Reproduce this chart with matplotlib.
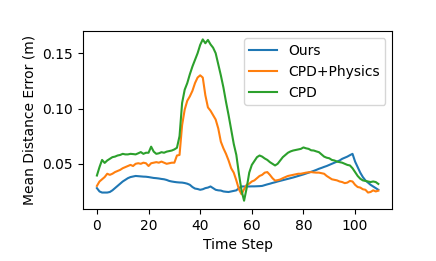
import matplotlib
matplotlib.use("Agg")
import matplotlib.pyplot as plt

steps = list(range(110))

ours = [0.028, 0.025, 0.024, 0.024, 0.024, 0.0245, 0.026, 0.028, 0.030, 0.032,
        0.034, 0.0355, 0.037, 0.038, 0.0385, 0.039, 0.0388, 0.0386, 0.0384, 0.0383,
        0.038, 0.0376, 0.0372, 0.037, 0.0367, 0.0363, 0.036, 0.0354, 0.0345, 0.034,
        0.0336, 0.0333, 0.0331, 0.033, 0.0326, 0.032, 0.031, 0.029, 0.0276, 0.0272,
        0.0265, 0.027, 0.028, 0.0285, 0.0295, 0.028, 0.0265, 0.026, 0.0258, 0.025,
        0.0247, 0.0245, 0.025, 0.0255, 0.026, 0.028, 0.0295, 0.0295, 0.0295, 0.0295,
        0.0296, 0.0296, 0.0297, 0.0298, 0.030, 0.0307, 0.0314, 0.032, 0.0327, 0.0333,
        0.034, 0.0346, 0.0352, 0.0358, 0.0364, 0.037, 0.0376, 0.0383, 0.039, 0.0397,
        0.0404, 0.0412, 0.042, 0.0428, 0.0436, 0.0445, 0.0455, 0.0463, 0.0472, 0.048,
        0.049, 0.050, 0.051, 0.052, 0.053, 0.0545, 0.0555, 0.0565, 0.0578, 0.059,
        0.052, 0.047, 0.042, 0.038, 0.035, 0.033, 0.031, 0.0295, 0.028, 0.0265]

cpd_physics = [0.030, 0.034, 0.036, 0.038, 0.041, 0.040, 0.041, 0.0425, 0.0435, 0.0445,
               0.046, 0.047, 0.048, 0.049, 0.048, 0.050, 0.0505, 0.050, 0.051, 0.0505,
               0.048, 0.0505, 0.051, 0.0515, 0.051, 0.052, 0.051, 0.050, 0.0505, 0.051,
               0.051, 0.0575, 0.058, 0.085, 0.099, 0.107, 0.111, 0.116, 0.123, 0.128,
               0.130, 0.128, 0.112, 0.101, 0.098, 0.094, 0.090, 0.082, 0.070, 0.064,
               0.059, 0.053, 0.046, 0.042, 0.035, 0.027, 0.0225, 0.027, 0.031, 0.032,
               0.034, 0.035, 0.037, 0.039, 0.040, 0.042, 0.0425, 0.040, 0.037, 0.0348,
               0.0352, 0.0358, 0.037, 0.038, 0.039, 0.0395, 0.040, 0.0405, 0.041, 0.041,
               0.0415, 0.042, 0.0423, 0.0425, 0.0422, 0.042, 0.042, 0.0415, 0.041, 0.039,
               0.0375, 0.036, 0.0355, 0.035, 0.034, 0.0335, 0.0325, 0.033, 0.0345, 0.034,
               0.031, 0.029, 0.0285, 0.027, 0.0265, 0.024, 0.0245, 0.026, 0.025, 0.0257]

cpd = [0.0394, 0.047, 0.0535, 0.0508, 0.053, 0.0545, 0.056, 0.0565, 0.0575, 0.058,
       0.059, 0.0585, 0.0585, 0.059, 0.0588, 0.0585, 0.0595, 0.0606, 0.059, 0.060,
       0.060, 0.0655, 0.061, 0.059, 0.0595, 0.0605, 0.060, 0.061, 0.0615, 0.062,
       0.063, 0.0645, 0.075, 0.105, 0.117, 0.123, 0.131, 0.138, 0.144, 0.150,
       0.1575, 0.1625, 0.159, 0.162, 0.158, 0.155, 0.150, 0.140, 0.130, 0.119,
       0.106, 0.094, 0.081, 0.068, 0.058, 0.041, 0.026, 0.0166, 0.028, 0.042,
       0.049, 0.0525, 0.056, 0.0575, 0.0565, 0.0548, 0.0535, 0.0515, 0.050, 0.0485,
       0.050, 0.053, 0.056, 0.058, 0.060, 0.0612, 0.062, 0.0625, 0.063, 0.0635,
       0.0648, 0.064, 0.0635, 0.0622, 0.062, 0.0612, 0.0605, 0.0585, 0.0565, 0.0555,
       0.055, 0.0535, 0.053, 0.052, 0.0515, 0.051, 0.050, 0.049, 0.0485, 0.046,
       0.0425, 0.039, 0.0365, 0.035, 0.0345, 0.034, 0.0335, 0.034, 0.0335, 0.0318]

fig = plt.figure(figsize=(4.36, 2.61), dpi=100)
fig.subplots_adjust(left=0.19, right=0.9, bottom=0.2, top=0.88)
ax = fig.add_subplot(111)
ax.plot(steps, ours, label="Ours")
ax.plot(steps, cpd_physics, label="CPD+Physics")
ax.plot(steps, cpd, label="CPD")
ax.set_xlabel("Time Step")
ax.set_ylabel("Mean Distance Error (m)")
ax.legend(loc="upper right")
fig.savefig("out.png", dpi=100)
